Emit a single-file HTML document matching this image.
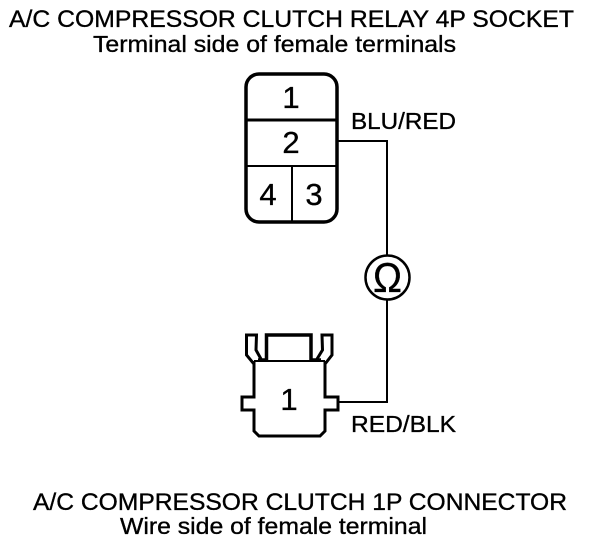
<!DOCTYPE html>
<html><head><meta charset="utf-8"><style>
html,body{margin:0;padding:0;background:#fff}
svg{display:block}
text{font-family:"Liberation Sans",sans-serif;fill:#000;stroke:#000;stroke-width:.35px}
</style></head><body>
<svg width="608" height="544" viewBox="0 0 608 544" xmlns="http://www.w3.org/2000/svg">
<rect width="608" height="544" fill="#fff"/>
<text x="9" y="27" font-size="24.5" textLength="565" lengthAdjust="spacingAndGlyphs">A/C COMPRESSOR CLUTCH RELAY 4P SOCKET</text>
<text x="93" y="52" font-size="23" textLength="363" lengthAdjust="spacingAndGlyphs">Terminal side of female terminals</text>
<text x="33" y="510" font-size="24.5" textLength="534" lengthAdjust="spacingAndGlyphs">A/C COMPRESSOR CLUTCH 1P CONNECTOR</text>
<text x="120" y="534" font-size="23" textLength="307" lengthAdjust="spacingAndGlyphs">Wire side of female terminal</text>
<text x="351" y="129" font-size="23.5" textLength="105" lengthAdjust="spacingAndGlyphs">BLU/RED</text>
<text x="351" y="432" font-size="23.5" textLength="105" lengthAdjust="spacingAndGlyphs">RED/BLK</text>
<rect x="246" y="74" width="91" height="148" rx="13" fill="none" stroke="#000" stroke-width="3.5"/>
<path d="M246 120H337" stroke="#000" stroke-width="3" fill="none"/>
<path d="M246 166H337M292 166V222" stroke="#000" stroke-width="2" fill="none"/>
<g font-size="31" text-anchor="middle">
<text x="291" y="108">1</text><text x="291" y="153">2</text><text x="268" y="205">4</text><text x="314" y="205">3</text><text x="289" y="410">1</text>
</g>
<path d="M338 141H387V255M387 299V402H339" stroke="#000" stroke-width="2" fill="none"/>
<circle cx="387.500" cy="277.500" r="22" fill="#fff" stroke="#000" stroke-width="2.500"/>
<text x="373" y="292" font-size="42" textLength="29" lengthAdjust="spacingAndGlyphs">Ω</text>
<path d="M254 361V397H242V410H254V431L259 436H320L325 431V410H338V397H325V361" fill="none" stroke="#000" stroke-width="3"/>
<path d="M254 361H325" stroke="#000" stroke-width="2" fill="none"/>
<path d="M266.500 360V335H311V360" fill="none" stroke="#000" stroke-width="3.500"/>
<path d="M254 364L246.500 355V335H256.500L256 350L261 359" fill="none" stroke="#000" stroke-width="3"/>
<path d="M325 364L332 355V335H322L322.500 350L317 359" fill="none" stroke="#000" stroke-width="3"/>
<path d="M258 360H266M311 360H321" stroke="#000" stroke-width="3.500" fill="none"/>
</svg>
</body></html>
